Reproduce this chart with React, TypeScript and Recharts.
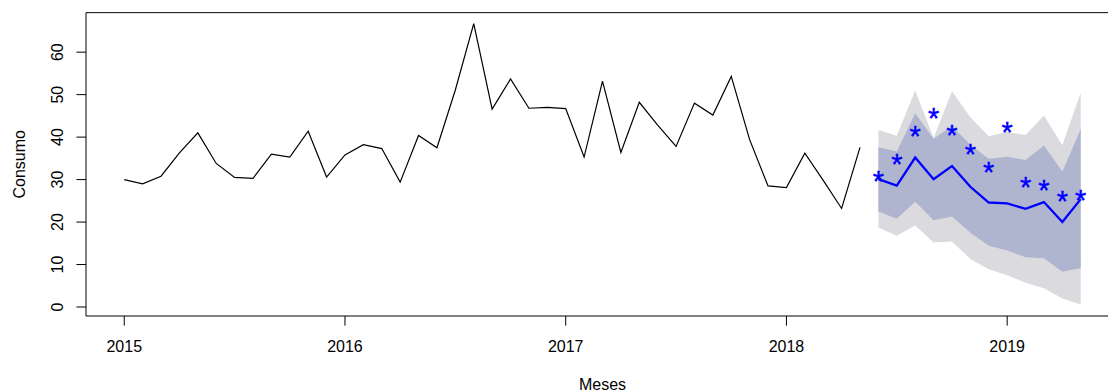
import { ComposedChart, Line, Area, XAxis, YAxis, ReferenceLine } from 'recharts';

// consumo mensal, jan/2015 a mai/2018
const consumo = [
    30.0, 29.0, 30.8, 36.3, 41.0, 33.8, 30.5, 30.3, 36.0, 35.3, 41.4, 30.6,
    35.8, 38.2, 37.3, 29.4, 40.4, 37.5, 51.1, 66.7, 46.6, 53.7, 46.8, 47.0,
    46.7, 35.3, 53.2, 36.4, 48.2, 42.8, 37.8, 48.0, 45.2, 54.3, 39.4, 28.5,
    28.1, 36.2, 29.8, 23.2, 37.6,
];

// previsão jun/2018 a mai/2019
const media = [30.1, 28.6, 35.2, 30.1, 33.2, 28.3, 24.6, 24.4, 23.1, 24.7, 20.0, 25.4];
const lo80 = [22.5, 20.8, 24.8, 20.4, 21.3, 17.5, 14.4, 13.3, 11.7, 11.5, 8.3, 9.1];
const hi80 = [37.6, 36.6, 45.6, 39.6, 42.6, 38.2, 34.9, 35.4, 34.6, 38.0, 31.9, 41.9];
const lo95 = [18.7, 16.8, 19.2, 15.2, 15.4, 11.3, 8.9, 7.5, 5.7, 4.4, 2.0, 0.6];
const hi95 = [41.7, 40.3, 51.0, 39.8, 50.8, 44.7, 40.2, 41.2, 40.5, 45.1, 38.1, 50.5];
// valores observados no período da previsão
const observado = [31.1, 35.2, 41.7, 46.0, 42.1, 37.6, 33.4, 42.7, 29.7, 29.1, 26.4, 26.8];

const anos = [2015, 2016, 2017, 2018, 2019];
const niveis = [0, 10, 20, 30, 40, 50, 60];

const inicio = 2015;
const yMax = 69.3;
const fonte = 'Liberation Sans, Arial, sans-serif';

const dados = [
    ...consumo.map((v, i) => ({ t: inicio + i / 12, consumo: v })),
    ...media.map((v, i) => ({
        t: inicio + (consumo.length + i) / 12,
        media: v,
        b80: [lo80[i], hi80[i]],
        b95: [lo95[i], hi95[i]],
        obs: observado[i],
    })),
];

const TickY = ({ y, payload }: any) => (
    <text x={63.3} y={y} transform={`rotate(-90 63.3 ${y})`} textAnchor="middle"
        fontSize={16} fill="#000" fontFamily={fonte}>{payload.value}</text>
);

const TickX = ({ x, payload }: any) => (
    <text x={x} y={351.7} textAnchor="middle" fontSize={16} fill="#000" fontFamily={fonte}>
        {payload.value}
    </text>
);

const Asterisco = (props: any) => {
    const { cx, cy, value, index } = props;
    if (value == null || cy == null || isNaN(cy)) return <g key={index} />;
    return (
        <text key={index} x={cx} y={cy + 16.5} textAnchor="middle" fontSize={29}
            fill="#0000FF" stroke="#0000FF" strokeWidth={0.4} fontFamily={fonte}>*</text>
    );
};

export default function App() {
    return (
        <div style={{ position: 'absolute', left: 0, top: 0, width: 1108, height: 392, overflow: 'hidden', background: '#fff' }}>
            <ComposedChart width={1140} height={392} data={dados}
                margin={{ top: 12.67, right: 21, bottom: 0, left: 0 }}>
                <XAxis dataKey="t" type="number" domain={[2014.8267, 2019.5067]} ticks={anos}
                    allowDataOverflow height={76} stroke="#000" tickSize={9.6} tick={<TickX />}
                    tickLine={{ stroke: '#000' }} axisLine={{ stroke: '#000' }} />
                <YAxis type="number" domain={[-2.12, yMax]} ticks={niveis} allowDataOverflow
                    width={86} tickSize={9.6} tick={<TickY />} stroke="#000"
                    tickLine={{ stroke: '#000' }} axisLine={{ stroke: '#000' }} />

                <Area dataKey="b95" type="linear" stroke="none" fill="#DBDBDF" fillOpacity={1} isAnimationActive={false} />
                <Area dataKey="b80" type="linear" stroke="none" fill="#B0B5CF" fillOpacity={1} isAnimationActive={false} />
                <Line dataKey="consumo" type="linear" stroke="#000" strokeWidth={1.2} dot={false} activeDot={false} isAnimationActive={false} />
                <Line dataKey="media" type="linear" stroke="#0000FF" strokeWidth={2.3} dot={false} activeDot={false} isAnimationActive={false} />
                <Line dataKey="obs" type="linear" stroke="none" dot={<Asterisco />} activeDot={false} isAnimationActive={false} />
                {/* borda superior da caixa */}
                <ReferenceLine y={yMax} stroke="#000" strokeWidth={1} />
            </ComposedChart>
            <svg width={1108} height={392} style={{ position: 'absolute', left: 0, top: 0, pointerEvents: 'none' }}>
                <text x={25} y={164.3} transform="rotate(-90 25 164.3)" textAnchor="middle"
                    fontSize={16} fill="#000" fontFamily={fonte}>Consumo</text>
                <text x={602.5} y={389.5} textAnchor="middle" fontSize={16} fill="#000" fontFamily={fonte}>Meses</text>
            </svg>
        </div>
    );
}
